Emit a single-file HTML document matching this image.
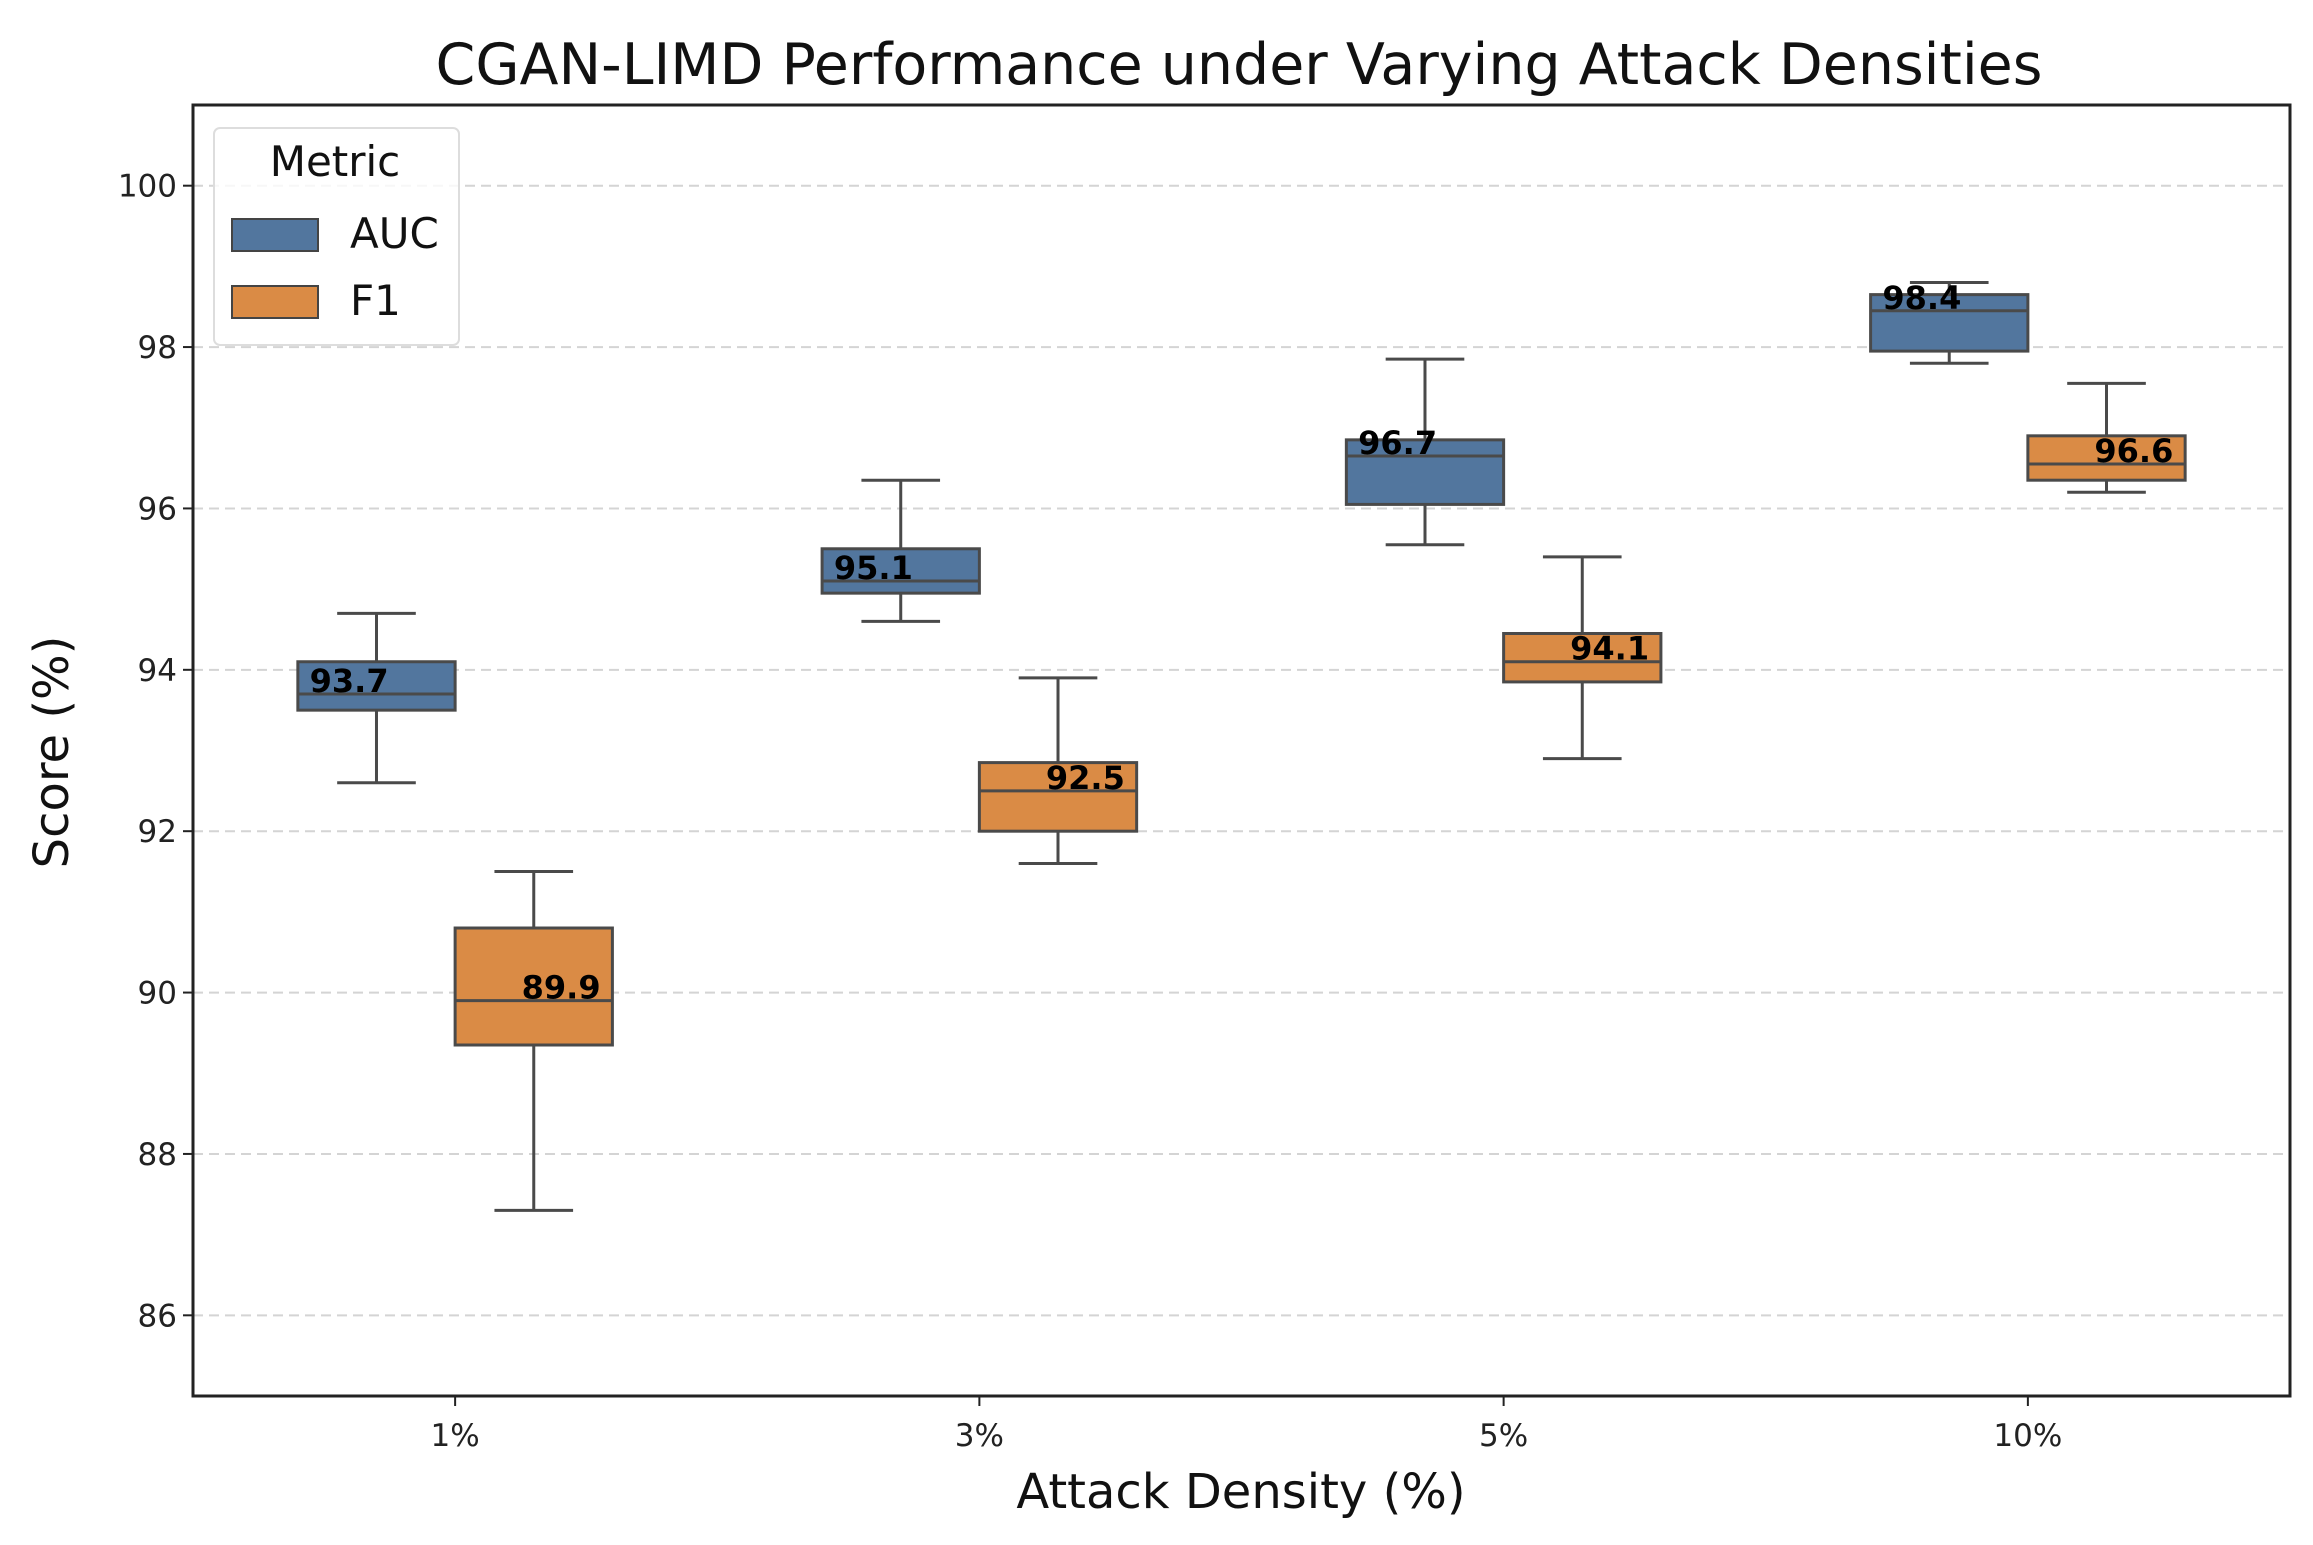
<!DOCTYPE html>
<html><head><meta charset="utf-8"><style>
html,body{margin:0;padding:0;background:#fff;}
svg{display:block;font-family:"DejaVu Sans","Liberation Sans",sans-serif;}
</style></head><body>
<svg id="chart" width="2313" height="1545" viewBox="0 0 2313 1545" xmlns="http://www.w3.org/2000/svg">
<rect width="2313" height="1545" fill="#fff"/>
<text x="1239" y="84" font-size="57" text-anchor="middle" fill="#111">CGAN-LIMD Performance under Varying Attack Densities</text>
<g id="grid"></g>
<g id="boxes"></g>
<rect x="193" y="105" width="2097" height="1291" fill="none" stroke="#222" stroke-width="3"/>
<g id="axes"></g>
<text x="1241" y="1508" font-size="48" text-anchor="middle" fill="#111">Attack Density (%)</text>
<text transform="translate(68,752) rotate(-90)" font-size="48" text-anchor="middle" fill="#111">Score (%)</text>
<g>
<rect x="214" y="128" width="245" height="217" rx="6" fill="#fff" fill-opacity="0.8" stroke="#ddd" stroke-width="2"/>
<text x="335" y="176" font-size="42" text-anchor="middle" fill="#111">Metric</text>
<rect x="232" y="219" width="86" height="32" fill="#52769e" stroke="#444" stroke-width="2"/>
<text x="350" y="248" font-size="42" fill="#111">AUC</text>
<rect x="232" y="286" width="86" height="32" fill="#da8b45" stroke="#444" stroke-width="2"/>
<text x="350" y="315" font-size="42" fill="#111">F1</text>
</g>
</svg>
<script>
const categories = ["1%","3%","5%","10%"];
const aucLow = [92.6,94.6,95.55,97.8];
const aucQ1 = [93.5,94.95,96.05,97.95];
const aucMed = [93.7,95.1,96.65,98.45];
const aucQ3 = [94.1,95.5,96.85,98.65];
const aucHigh = [94.7,96.35,97.85,98.8];
const aucLabels = ["93.7","95.1","96.7","98.4"];
const f1Low = [87.3,91.6,92.9,96.2];
const f1Q1 = [89.35,92.0,93.85,96.35];
const f1Med = [89.9,92.5,94.1,96.55];
const f1Q3 = [90.8,92.85,94.45,96.9];
const f1High = [91.5,93.9,95.4,97.55];
const f1Labels = ["89.9","92.5","94.1","96.6"];
const yTicks = [86,88,90,92,94,96,98,100];

const NS="http://www.w3.org/2000/svg";
const X0=193,X1=2290,Y0=105,Y1=1396,YMIN=85,YMAX=101;
const bandW=(X1-X0)/categories.length;
const xc=i=>X0+bandW*(i+0.5);
const ys=v=>Y1-(v-YMIN)/(YMAX-YMIN)*(Y1-Y0);
function mk(tag,attrs,parent){const e=document.createElementNS(NS,tag);for(const k in attrs)e.setAttribute(k,attrs[k]);parent.appendChild(e);return e;}
const grid=document.getElementById('grid'),axes=document.getElementById('axes'),boxes=document.getElementById('boxes');
yTicks.forEach(t=>{
  const y=ys(t);
  const g=mk('line',{x1:X0,x2:X1,y1:y,y2:y,stroke:'#d4d4d4','stroke-width':2,'stroke-dasharray':'10,6'},grid);
  
  
  const tk=mk('line',{x1:X0-10,x2:X0,y1:y,y2:y,stroke:'#222','stroke-width':2},axes);
  
  
  const tl=mk('text',{x:X0-16,y:y+11,'font-size':31,'text-anchor':'end',fill:'#222'},axes);
  tl.textContent=t;
  
  
});
categories.forEach((c,i)=>{
  const x=xc(i);
  const tk=mk('line',{x1:x,x2:x,y1:Y1,y2:Y1+10,stroke:'#222','stroke-width':2},axes);
  
  
  const tl=mk('text',{x:x,y:Y1+50,'font-size':31,'text-anchor':'middle',fill:'#222'},axes);
  tl.textContent=c;
  
  
});
const boxW=bandW*0.3;
function drawBox(i,off,lo,q1,md,q3,hi,lab,color,name,labOff){
  const cx=xc(i)+off;
  const g=mk('g',{},boxes);
  
  
  const st={stroke:'#4a4a4a','stroke-width':3};
  mk('line',Object.assign({x1:cx,x2:cx,y1:ys(hi),y2:ys(q3)},st),g);
  mk('line',Object.assign({x1:cx,x2:cx,y1:ys(q1),y2:ys(lo)},st),g);
  mk('line',Object.assign({x1:cx-boxW/4,x2:cx+boxW/4,y1:ys(hi),y2:ys(hi)},st),g);
  mk('line',Object.assign({x1:cx-boxW/4,x2:cx+boxW/4,y1:ys(lo),y2:ys(lo)},st),g);
  mk('rect',Object.assign({x:cx-boxW/2,y:ys(q3),width:boxW,height:ys(q1)-ys(q3),fill:color},st),g);
  mk('line',Object.assign({x1:cx-boxW/2,x2:cx+boxW/2,y1:ys(md),y2:ys(md)},st),g);
  const t=mk('text',{x:xc(i)+labOff,y:ys(md)-2,'font-size':32,'font-weight':'bold','text-anchor':'middle',fill:'#000'},g);
  t.textContent=lab;
  
  
}
categories.forEach((c,i)=>{
  drawBox(i,-boxW/2,aucLow[i],aucQ1[i],aucMed[i],aucQ3[i],aucHigh[i],aucLabels[i],'#52769e','auc',-106);
  drawBox(i,boxW/2,f1Low[i],f1Q1[i],f1Med[i],f1Q3[i],f1High[i],f1Labels[i],'#da8b45','f1',106);
});
</script>
</body></html>
